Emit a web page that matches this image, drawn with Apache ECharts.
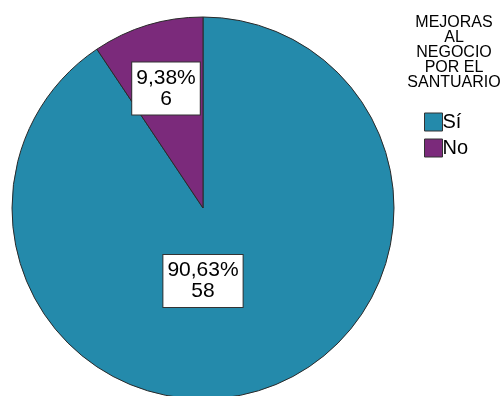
<!DOCTYPE html>
<html>
<head>
<meta charset="utf-8">
<script src="https://cdn.jsdelivr.net/npm/echarts@6/dist/echarts.min.js"></script>
<style>
html,body{margin:0;padding:0;background:#fff;}
#chart{width:501px;height:396px;}
</style>
</head>
<body>
<div id="chart"></div>
<script>
const categories = ['Sí', 'No'];
const counts = [58, 6];
const percents = ['90,63%', '9,38%'];
const colors = ['#248aab', '#7b2a7b'];
const legendTitle = 'MEJORAS\nAL\nNEGOCIO\nPOR EL\nSANTUARIO';

const labelPos = [[203, 281], [166, 88.5]];

const chart = echarts.init(document.getElementById('chart'), null, {renderer: 'canvas'});
chart.setOption({
  animation: false,
  backgroundColor: '#fff',
  title: {
    text: legendTitle,
    left: 449,
    top: 10,
    textAlign: 'center',
    textStyle: {
      fontFamily: 'Liberation Sans, Arial, sans-serif',
      fontSize: 16,
      fontWeight: 'normal',
      lineHeight: 15,
      color: '#000'
    }
  },
  legend: {
    orient: 'vertical',
    left: 419,
    top: 107,
    itemWidth: 18,
    itemHeight: 18,
    itemGap: 6,
    icon: 'rect',
    data: categories,
    textStyle: {
      fontFamily: 'Liberation Sans, Arial, sans-serif',
      fontSize: 20,
      color: '#000',
      padding: [0, 0, 0, -5]
    },
    itemStyle: {borderColor: '#333', borderWidth: 1}
  },
  series: [{
    type: 'pie',
    center: [203, 208],
    radius: 191,
    startAngle: 90,
    clockwise: true,
    data: categories.map((c, i) => ({
      name: c,
      value: counts[i],
      itemStyle: {color: colors[i]},
      label: {formatter: percents[i] + '\n' + counts[i]}
    })),
    itemStyle: {borderColor: '#2a2a2a', borderWidth: 1},
    label: {
      show: true,
      position: 'inside',
      fontFamily: 'Liberation Sans, Arial, sans-serif',
      fontSize: 21,
      lineHeight: 21,
      color: '#000',
      align: 'center',
      backgroundColor: '#fff',
      borderColor: '#333',
      borderWidth: 1,
      padding: [5, 4, 5, 4]
    },
    labelLine: {show: false},
    labelLayout: function (params) {
      const p = labelPos[params.dataIndex];
      return {x: p[0], y: p[1], align: 'center', verticalAlign: 'middle'};
    },
    emphasis: {disabled: true}
  }]
});
</script>
</body>
</html>
